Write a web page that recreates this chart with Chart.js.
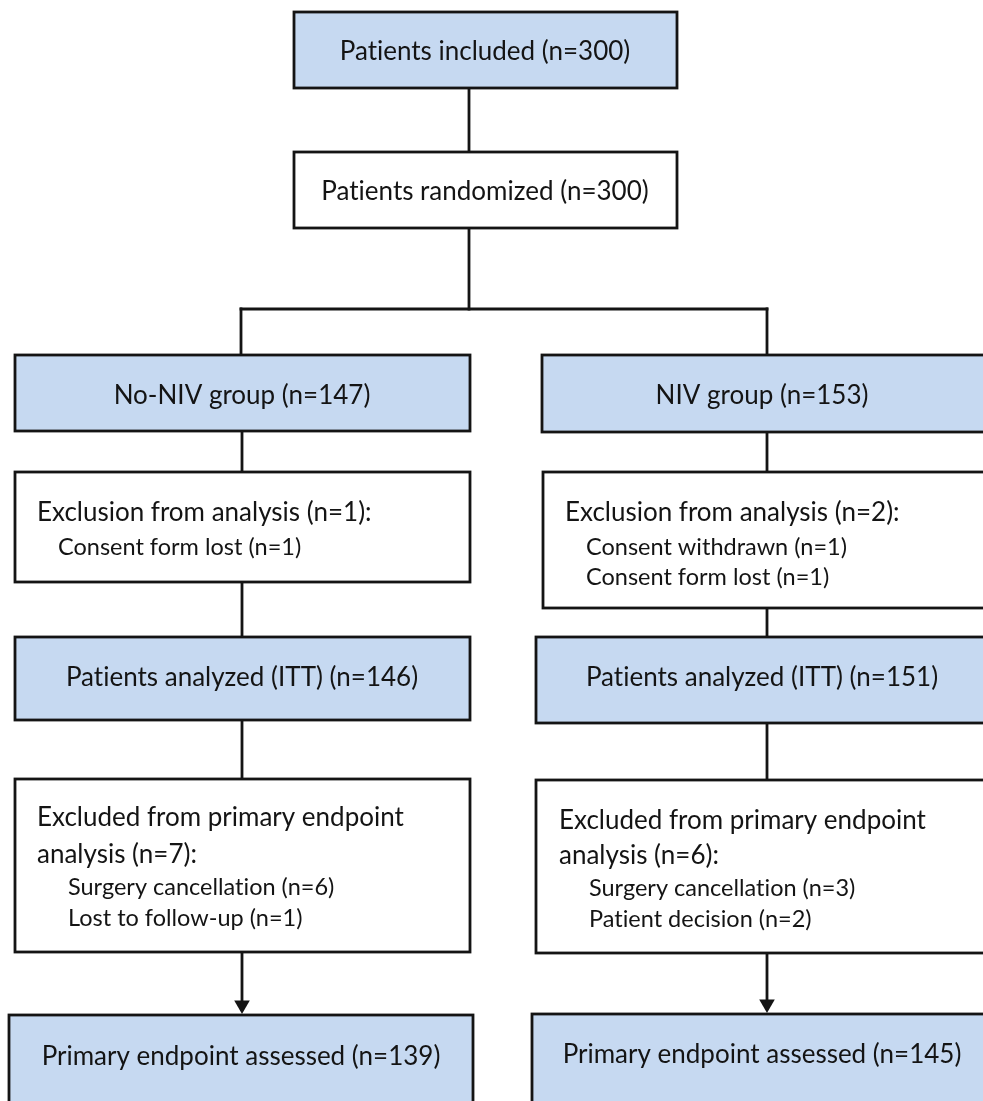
<!DOCTYPE html>
<html>
  <head>
    <title>Patient flow chart</title>
    <script src="https://cdn.jsdelivr.net/npm/chart.js"></script>
    <style>
      html, body {
        margin: 0;
        padding: 0;
        background: #ffffff;
        overflow: hidden;
      }
      .chart-box {
        width: 983px;
        height: 1101px;
        position: relative;
      }
    </style>
  </head>
  <body>
    <div class="chart-box">
      <canvas id="chart"></canvas>
    </div>
    <script>
      // box texts (heading lines and indented sub lines)
      const headLines = [
        ['Patients included (n=300)'],
        ['Patients randomized (n=300)'],
        ['No-NIV group (n=147)'],
        ['NIV group (n=153)'],
        ['Exclusion from analysis (n=1):'],
        ['Exclusion from analysis (n=2):'],
        ['Patients analyzed (ITT) (n=146)'],
        ['Patients analyzed (ITT) (n=151)'],
        ['Excluded from primary endpoint', 'analysis (n=7):'],
        ['Excluded from primary endpoint', 'analysis (n=6):'],
        ['Primary endpoint assessed (n=139)'],
        ['Primary endpoint assessed (n=145)']
      ];
      const subLines = [
        [], [], [], [],
        ['Consent form lost (n=1)'],
        ['Consent withdrawn (n=1)', 'Consent form lost (n=1)'],
        [], [],
        ['Surgery cancellation (n=6)', 'Lost to follow-up (n=1)'],
        ['Surgery cancellation (n=3)', 'Patient decision (n=2)'],
        [], []
      ];
      const shaded = [true, false, true, true, false, false, true, true, false, false, true, true];

      // layout in chart units (x: 0..983, y: 0..1101 from top)
      const boxLeft   = [294, 294, 15, 542, 15, 543, 15, 536, 15, 536, 9, 532];
      const boxRight  = [677, 677, 470, 1010, 470, 1010, 470, 1010, 470, 1010, 473, 1010];
      const boxTop    = [12, 152, 355, 355, 472, 472, 637, 637, 779, 780, 1015, 1014];
      const boxBottom = [88, 228, 431, 432, 582, 608, 720, 723, 952, 953, 1130, 1130];
      const textAlign = ['center', 'center', 'center', 'center', 'left', 'left', 'center', 'center', 'left', 'left', 'center', 'center'];
      const textX     = [485, 485, 242, 762, 37, 565, 242, 762, 37, 559, 241, 762];
      const headY     = [[52], [192], [396], [396], [513], [513], [678], [678], [818, 855], [821, 856], [1057], [1055]];
      const subX      = [0, 0, 0, 0, 58, 586, 0, 0, 68, 589, 0, 0];
      const subY      = [[], [], [], [], [547], [547, 577], [], [], [887, 918], [888, 919], [], []];

      // connector segments [x1, y1, x2, y2]
      const connectors = [
        [469, 88, 469, 152],
        [469, 228, 469, 309],
        [241, 309, 767, 309],
        [241, 309, 241, 355],
        [767, 309, 767, 355],
        [242, 431, 242, 472],
        [767, 432, 767, 472],
        [242, 582, 242, 637],
        [767, 608, 767, 637],
        [242, 720, 242, 779],
        [767, 723, 767, 780],
        [242, 952, 242, 1004],
        [767, 953, 767, 1003]
      ];
      const arrowTips = [[242, 1005], [767, 1004]];

      const fillBlue = '#C6D9F1';
      const ink = '#141414';

      const datasets = connectors.map(function (c) {
        return {
          data: [{ x: c[0], y: c[1] }, { x: c[2], y: c[3] }],
          showLine: true,
          borderColor: ink,
          borderWidth: 2.8,
          pointRadius: 0,
          borderCapStyle: 'square'
        };
      });
      datasets.push({
        data: arrowTips.map(function (p) { return { x: p[0], y: p[1] }; }),
        showLine: false,
        pointStyle: 'triangle',
        rotation: 180,
        pointRadius: 9,
        pointBorderWidth: 0,
        pointBackgroundColor: ink,
        pointBorderColor: ink
      });

      const boxPlugin = {
        id: 'boxes',
        afterDatasetsDraw(chart) {
          const ctx = chart.ctx;
          const xs = chart.scales.x;
          const ys = chart.scales.y;
          ctx.save();
          // no "ti" ligatures, the original font has none
          ctx.textRendering = 'optimizeSpeed';
          for (let i = 0; i < headLines.length; i++) {
            const l = xs.getPixelForValue(boxLeft[i]);
            const r = xs.getPixelForValue(boxRight[i]);
            const t = ys.getPixelForValue(boxTop[i]);
            const b = ys.getPixelForValue(boxBottom[i]);
            ctx.fillStyle = shaded[i] ? fillBlue : '#ffffff';
            ctx.fillRect(l, t, r - l, b - t);
            ctx.lineWidth = 2.8;
            ctx.strokeStyle = ink;
            ctx.strokeRect(l, t, r - l, b - t);

            ctx.fillStyle = ink;
            ctx.textBaseline = 'middle';
            ctx.textAlign = textAlign[i];
            ctx.font = '26px Lato, "Open Sans", sans-serif';
            headLines[i].forEach(function (txt, k) {
              ctx.fillText(txt, xs.getPixelForValue(textX[i]), ys.getPixelForValue(headY[i][k]));
            });
            ctx.font = '23.5px Lato, "Open Sans", sans-serif';
            ctx.textAlign = 'left';
            subLines[i].forEach(function (txt, k) {
              ctx.fillText(txt, xs.getPixelForValue(subX[i]), ys.getPixelForValue(subY[i][k]));
            });
          }
          ctx.restore();
        }
      };

      const ctx = document.getElementById('chart').getContext('2d');
      window.myChart = new Chart(ctx, {
        type: 'scatter',
        data: { datasets: datasets },
        options: {
          responsive: true,
          maintainAspectRatio: false,
          animation: false,
          layout: { padding: 0, autoPadding: false },
          plugins: {
            legend: { display: false },
            tooltip: { enabled: false }
          },
          scales: {
            x: { type: 'linear', min: 0, max: 983, display: false },
            y: { type: 'linear', min: 0, max: 1101, reverse: true, display: false }
          }
        },
        plugins: [boxPlugin]
      });
    </script>
  </body>
</html>
